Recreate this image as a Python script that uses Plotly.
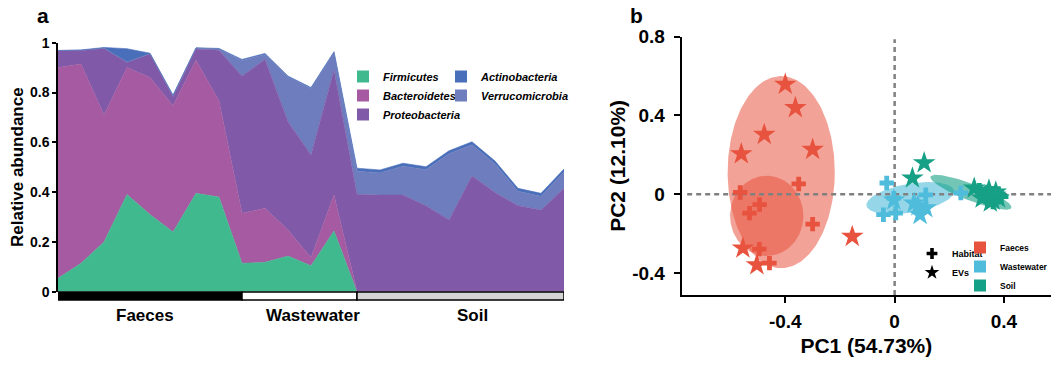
import numpy as np
import plotly.graph_objects as go

W, H = 1051, 367
FONT = "Liberation Sans, Arial, Helvetica, sans-serif"

# ---------------- Panel a data ----------------
sample_index = list(range(23))
groups = ["Faeces", "Wastewater", "Soil"]
group_start = [0, 8, 13]
group_end = [8, 13, 22]
group_label_x = [3.8, 11.1, 18.0]
group_bar_colors = ["#000000", "#ffffff", "#d4d4d4"]

phyla = ["Firmicutes", "Bacteroidetes", "Proteobacteria", "Verrucomicrobia", "Actinobacteria"]
firmicutes = [0.054, 0.114, 0.200, 0.390, 0.310, 0.240, 0.395, 0.380,
              0.114, 0.118, 0.143, 0.104, 0.244,
              0, 0, 0, 0, 0, 0, 0, 0, 0, 0]
bacteroidetes = [0.846, 0.800, 0.510, 0.510, 0.550, 0.507, 0.535, 0.387,
                 0.201, 0.217, 0.105, 0.033, 0.144,
                 0.002, 0.002, 0.002, 0.002, 0.002, 0.002, 0.002, 0.002, 0.002, 0.002]
proteobacteria = [0.067, 0.055, 0.267, 0.021, 0.095, 0.036, 0.045, 0.203,
                  0.551, 0.598, 0.435, 0.412, 0.502,
                  0.389, 0.386, 0.386, 0.343, 0.286, 0.463, 0.396, 0.343, 0.326, 0.413]
verrucomicrobia = [0.001, 0.001, 0.001, 0.001, 0.001, 0.004, 0.003, 0.005,
                   0.063, 0.020, 0.179, 0.267, 0.070,
                   0.093, 0.089, 0.116, 0.145, 0.266, 0.125, 0.115, 0.058, 0.055, 0.066]
actinobacteria = [0.001, 0.001, 0.003, 0.054, 0.002, 0.003, 0.002, 0.002,
                  0.004, 0.004, 0.004, 0.004, 0.004,
                  0.012, 0.012, 0.012, 0.012, 0.012, 0.012, 0.012, 0.012, 0.012, 0.012]
phylum_values = [firmicutes, bacteroidetes, proteobacteria, verrucomicrobia, actinobacteria]
phylum_colors = ["#40b98e", "#a55aa1", "#805aa8", "#6e7dbe", "#4a6fba"]
legend_a1 = ["Firmicutes", "Bacteroidetes", "Proteobacteria"]
legend_a2 = ["Actinobacteria", "Verrucomicrobia"]

# ---------------- Panel b data ----------------
pcoa_groups = ["Faeces", "Wastewater", "Soil"]
pcoa_colors = ["#e8533f", "#4fbcdb", "#16a085"]

faeces_habitat_pc1 = [-0.351, -0.565, -0.494, -0.531, -0.300, -0.495, -0.458]
faeces_habitat_pc2 = [0.052, 0.009, -0.053, -0.096, -0.152, -0.279, -0.350]
faeces_ev_pc1 = [-0.400, -0.363, -0.477, -0.561, -0.300, -0.555, -0.504, -0.155]
faeces_ev_pc2 = [0.558, 0.439, 0.303, 0.205, 0.227, -0.274, -0.359, -0.215]

wastewater_habitat_pc1 = [-0.029, -0.041, 0.004, 0.114, 0.242, -0.003]
wastewater_habitat_pc2 = [0.057, -0.104, -0.096, -0.003, 0.006, -0.020]
wastewater_ev_pc1 = [-0.003, 0.071, 0.114, 0.093, 0.085]
wastewater_ev_pc2 = [-0.030, -0.045, -0.070, -0.104, -0.060]

soil_habitat_pc1 = [0.310, 0.330, 0.340, 0.350, 0.360, 0.370, 0.380, 0.390, 0.340, 0.360]
soil_habitat_pc2 = [0.020, 0.000, 0.012, -0.010, 0.005, -0.020, 0.002, -0.012, -0.030, -0.040]
soil_ev_pc1 = [0.108, 0.065, 0.291, 0.330, 0.350, 0.360, 0.380, 0.345, 0.320, 0.370]
soil_ev_pc2 = [0.159, 0.082, 0.030, -0.010, -0.040, -0.030, -0.020, 0.020, -0.020, 0.010]

# ellipse parameters: centre x, centre y, semi-axis a, semi-axis b, angle (deg), colour
ellipse_cx = [-0.415, -0.468, 0.057, 0.279]
ellipse_cy = [0.112, -0.110, -0.020, 0.010]
ellipse_a = [0.196, 0.134, 0.165, 0.168]
ellipse_b = [0.488, 0.204, 0.072, 0.040]
ellipse_angle = [0, 0, 15, -29]
ellipse_color = ["rgba(232,83,63,0.54)", "rgba(232,83,63,0.55)",
                 "rgba(79,188,219,0.6)", "rgba(22,160,133,0.6)"]

fig = go.Figure()

# ---- panel a: stacked areas ----
for name, vals, col in zip(phyla, phylum_values, phylum_colors):
    fig.add_trace(go.Scatter(
        x=sample_index, y=vals, name=name, mode="lines", stackgroup="a",
        line=dict(width=0.6, color=col), fillcolor=col, showlegend=False,
        xaxis="x", yaxis="y", hoverinfo="skip"))

# legend entries (square swatches)
for name in legend_a1 + legend_a2:
    col = phylum_colors[phyla.index(name)]
    fig.add_trace(go.Scatter(
        x=[None], y=[None], mode="markers", name=name,
        marker=dict(symbol="square", size=12, color=col),
        legend="legend" if name in legend_a1 else "legend2",
        xaxis="x", yaxis="y"))

# group bars under the x axis
bar_y0 = 1 - 300 / H
bar_y1 = 1 - 292 / H
for g, s, e, c, lx in zip(groups, group_start, group_end, group_bar_colors, group_label_x):
    fig.add_shape(type="rect", xref="x", yref="paper", x0=s, x1=e, y0=bar_y0, y1=bar_y1,
                  fillcolor=c, line=dict(color="black", width=1.5))
    fig.add_annotation(text=g, xref="x", yref="paper", x=lx, y=1 - 315 / H,
                       showarrow=False, xanchor="center", yanchor="middle",
                       font=dict(family=FONT, size=17, color="black", weight="bold"))

# ---- panel b ----
t = np.linspace(0, 2 * np.pi, 200)
for cx, cy, a, b, ang, col in zip(ellipse_cx, ellipse_cy, ellipse_a, ellipse_b, ellipse_angle, ellipse_color):
    th = np.deg2rad(ang)
    ex = cx + a * np.cos(t) * np.cos(th) - b * np.sin(t) * np.sin(th)
    ey = cy + a * np.cos(t) * np.sin(th) + b * np.sin(t) * np.cos(th)
    fig.add_trace(go.Scatter(x=ex, y=ey, mode="lines", fill="toself", fillcolor=col,
                             line=dict(width=0), showlegend=False, hoverinfo="skip",
                             xaxis="x2", yaxis="y2"))

xr2 = [-0.779, 0.572]
yr2 = [-0.512, 0.8]
fig.add_trace(go.Scatter(x=[0, 0], y=[yr2[0], 0.787], mode="lines",
                         line=dict(color="#808080", width=2.5, dash="5px,4px"),
                         showlegend=False, hoverinfo="skip", xaxis="x2", yaxis="y2"))
fig.add_trace(go.Scatter(x=[xr2[0] + 0.02, xr2[1]], y=[0, 0], mode="lines",
                         line=dict(color="#808080", width=2.5, dash="5px,4px"),
                         showlegend=False, hoverinfo="skip", xaxis="x2", yaxis="y2"))

pts = [
    (faeces_habitat_pc1, faeces_habitat_pc2, "cross", 0),
    (faeces_ev_pc1, faeces_ev_pc2, "star", 0),
    (wastewater_habitat_pc1, wastewater_habitat_pc2, "cross", 1),
    (wastewater_ev_pc1, wastewater_ev_pc2, "star", 1),
    (soil_habitat_pc1, soil_habitat_pc2, "cross", 2),
    (soil_ev_pc1, soil_ev_pc2, "star", 2),
]
for px, py, sym, gi in pts:
    fig.add_trace(go.Scatter(
        x=px, y=py, mode="markers", showlegend=False,
        marker=dict(symbol=sym, size=17 if sym == "star" else 12, color=pcoa_colors[gi],
                    line=dict(width=0)),
        xaxis="x2", yaxis="y2"))

# panel b legends
for name, sym in [("Habitat", "cross"), ("EVs", "star")]:
    fig.add_trace(go.Scatter(x=[None], y=[None], mode="markers", name=name,
                             marker=dict(symbol=sym, size=9 if sym == "cross" else 11, color="black"),
                             legend="legend3", xaxis="x2", yaxis="y2"))
for name, col in zip(pcoa_groups, pcoa_colors):
    fig.add_trace(go.Scatter(x=[None], y=[None], mode="markers", name=name,
                             marker=dict(symbol="square", size=12, color=col),
                             legend="legend4", xaxis="x2", yaxis="y2"))

# panel letters
fig.add_annotation(text="a", xref="paper", yref="paper", x=43 / W, y=1 - 15 / H,
                   xanchor="center", yanchor="middle",
                   showarrow=False, font=dict(family=FONT, size=21, color="black", weight="bold"))
fig.add_annotation(text="b", xref="paper", yref="paper", x=636 / W, y=1 - 15 / H,
                   xanchor="center", yanchor="middle",
                   showarrow=False, font=dict(family=FONT, size=21, color="black", weight="bold"))

legend_common = dict(bgcolor="rgba(0,0,0,0)", borderwidth=0, xanchor="left", yanchor="top",
                     itemclick=False, itemdoubleclick=False, traceorder="normal")

fig.update_layout(
    width=W, height=H,
    margin=dict(l=0, r=0, t=0, b=0, autoexpand=False),
    paper_bgcolor="white", plot_bgcolor="white",
    font=dict(family=FONT, color="black"),
    xaxis=dict(domain=[58 / W, 564 / W], range=[0, 22], showticklabels=False, showline=False,
               showgrid=False, zeroline=False, ticks="", anchor="y"),
    yaxis=dict(domain=[1 - 291.7 / H, 1 - 42.7 / H], range=[0, 1],
               tickvals=[0, 0.2, 0.4, 0.6, 0.8, 1], ticktext=["0", "0.2", "0.4", "0.6", "0.8", "1"],
               showline=True, linecolor="black", linewidth=1.5, ticks="outside", ticklen=4,
               tickwidth=1.5, tickcolor="black", showgrid=False, zeroline=False,
               tickfont=dict(size=14, weight="bold"),
               title=dict(text="Relative abundance", standoff=2,
                          font=dict(size=17, weight="bold")), anchor="x"),
    xaxis2=dict(domain=[681.7 / W, 1.0], range=xr2, tickvals=[-0.4, 0, 0.4],
                ticktext=["-0.4", "0", "0.4"], showline=True, linecolor="black", linewidth=2,
                ticks="outside", ticklen=6, tickwidth=2, tickcolor="black", showgrid=False,
                zeroline=False, tickfont=dict(size=19, weight="bold"), ticklabelstandoff=2,
                title=dict(text="PC1 (54.73%)", standoff=8, font=dict(size=21, weight="bold")),
                anchor="y2"),
    yaxis2=dict(domain=[1 - 295 / H, 1 - 36.7 / H], range=yr2, tickvals=[-0.4, 0, 0.4, 0.8],
                ticktext=["-0.4", "0", "0.4", "0.8"], showline=True, linecolor="black",
                linewidth=2, ticks="outside", ticklen=6, tickwidth=2, tickcolor="black",
                showgrid=False, zeroline=False, tickfont=dict(size=19, weight="bold"),
                ticklabelstandoff=5,
                title=dict(text="PC2 (12.10%)", standoff=1, font=dict(size=21, weight="bold")),
                anchor="x2"),
    legend=dict(x=343 / W, y=1 - 62 / H,
                font=dict(size=11, style="italic", weight="bold"), **legend_common),
    legend2=dict(x=441 / W, y=1 - 62 / H,
                 font=dict(size=11, style="italic", weight="bold"), **legend_common),
    legend3=dict(x=912 / W, y=1 - 239 / H, font=dict(size=9, weight="bold"), **legend_common),
    legend4=dict(x=960 / W, y=1 - 233 / H, font=dict(size=8.5, weight="bold"), **legend_common),
)

fig.write_html("out.html")
